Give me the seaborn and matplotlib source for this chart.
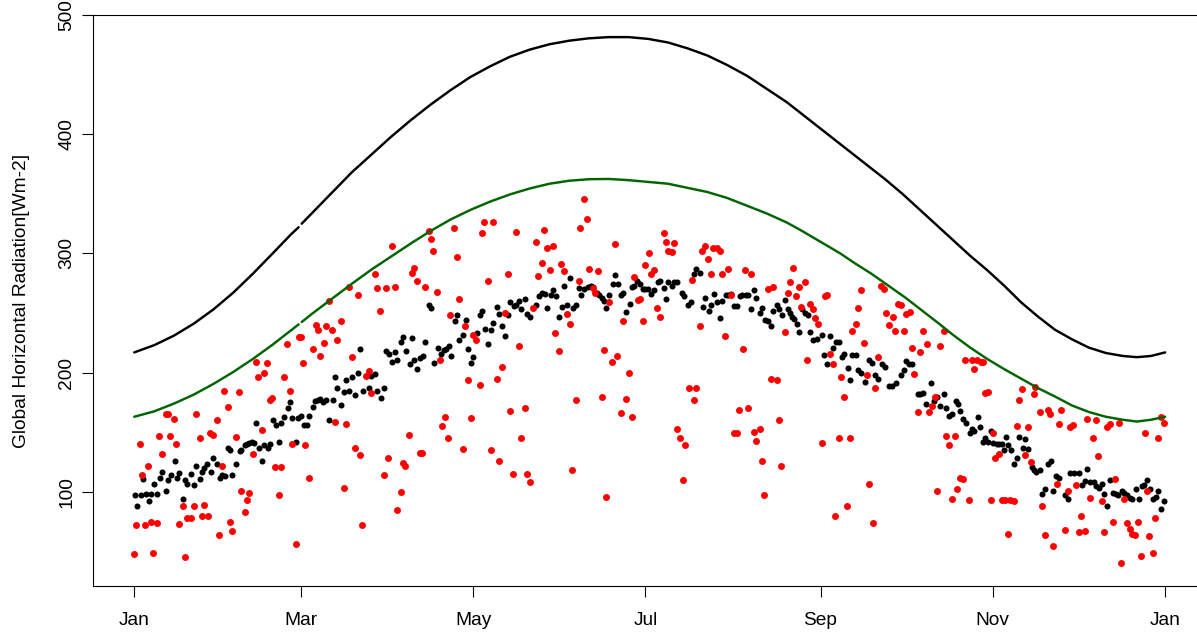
import matplotlib
matplotlib.use("Agg")
import matplotlib.pyplot as plt
import pandas as pd
import seaborn as sns

# x = day of year (0 = 1 Jan), y = W m-2
MONTH_TICKS = [0, 59, 120, 181, 243, 304, 365]
MONTH_LABELS = ["Jan", "Mar", "May", "Jul", "Sep", "Nov", "Jan"]
Y_TICKS = [100, 200, 300, 400, 500]
GAP_DAY = 58.7  # both curves have a small break here

# upper black curve
TOP_CURVE = [(0, 217), (7, 223), (14, 231), (21, 241), (28, 253), (35, 267), (42, 283),
             (49, 300), (55.5, 316), (58.2, 322), (59.3, 325), (63, 334), (70, 351), (77, 368),
             (84, 383), (91, 398), (98, 412), (105, 425), (112, 437), (119, 448), (126, 457),
             (133, 465), (140, 471), (147, 475.5), (154, 478.5), (161, 480.5), (168, 481.5),
             (175, 481.5), (182, 480), (189, 477), (196, 472), (203, 466), (210, 458), (217, 449),
             (224, 438), (231, 427), (238, 414), (245, 401), (252, 388), (259, 375), (266, 362),
             (272, 350), (278, 337), (284, 324), (290, 311), (296, 298), (302, 286), (308, 273),
             (314, 259), (320, 247), (326, 236), (332, 228), (338, 221), (344, 216.5), (350, 214),
             (355, 213), (360, 214), (365, 217)]

# green curve
CLEAR_CURVE = [(0, 163), (7, 167.5), (14, 174), (21, 181.5), (28, 190.5), (35, 200.5),
               (42, 211.5), (49, 223.5), (55.5, 235.5), (58.2, 240.5), (59.3, 242.5), (63, 249.5),
               (70, 262), (77, 274.5), (84, 286.5), (91, 297.5), (98, 308.5), (105, 319),
               (112, 328.5), (119, 336.5), (126, 343.5), (133, 349.5), (140, 354.5), (147, 358.5),
               (154, 361), (161, 362.3), (168, 362.5), (175, 361.5), (182, 360), (189, 358.5),
               (196, 355), (203, 351.5), (210, 346.5), (217, 340), (224, 333.5), (231, 326),
               (236, 319.5), (241, 312.5), (245, 307), (250, 300), (255, 292), (261, 283),
               (267, 273), (273, 263), (279, 252), (285, 241), (290, 231.5), (296, 221),
               (302, 211.5), (308, 203), (314, 195), (320, 187), (326, 180), (332, 172.5),
               (338, 167), (344, 163), (350, 160.5), (355, 159), (360, 160.5), (365, 163)]

# black dots
BLACK_DOTS = [
    (0.1, 97), (0.8, 88), (2.4, 97), (3.0, 111), (4.1, 98), (5.1, 92), (6.0, 98), (7.0, 107),
    (8.0, 98), (9.0, 112), (9.9, 117), (11.2, 101), (12.1, 110), (12.9, 114), (14.3, 126),
    (15.1, 112), (15.9, 116), (17.3, 94), (18.0, 110), (18.8, 107), (20.2, 115), (21.1, 106),
    (21.9, 122), (23.2, 111), (24.1, 117), (24.8, 120), (25.6, 123), (27.3, 117), (28.0, 128),
    (29.3, 123), (30.2, 112), (31.0, 114), (32.0, 113), (33.2, 137), (34.0, 135), (34.7, 114),
    (36.2, 123), (37.3, 134), (37.9, 135), (39.1, 139), (39.9, 140), (40.7, 141), (41.6, 142),
    (42.4, 141), (43.2, 158), (44.0, 137), (45.2, 126), (45.9, 139), (47.3, 137), (48.1, 140),
    (49.0, 160), (50.1, 156), (51.3, 142), (52.0, 158), (53.2, 163), (54.3, 170), (55.1, 175),
    (56.0, 162), (57.2, 142), (57.9, 162), (59.1, 164), (60.1, 156),
    (61.2, 156), (62.0, 164), (63.4, 171), (64.1, 176), (65.0, 177), (65.8, 178), (66.7, 175),
    (67.9, 177), (69.0, 160), (70.2, 177), (71.2, 196), (71.9, 187), (73.3, 173), (74.2, 184),
    (75.1, 194), (76.1, 185), (77.1, 196), (78.0, 181), (79.3, 200), (80.1, 220), (81.1, 185),
    (83.2, 187), (84.0, 197), (85.3, 199), (86.1, 185), (87.2, 179), (88.4, 187), (89.2, 218),
    (90.2, 216), (91.3, 209), (92.2, 217), (93.2, 211), (94.5, 226), (95.3, 230), (96.1, 218),
    (97.5, 207), (98.3, 229), (99.1, 211), (100.0, 203), (101.2, 212), (102.1, 214), (103.0, 226),
    (104.2, 257), (105.1, 254), (106.0, 208), (107.4, 221), (108.6, 216), (109.5, 219),
    (110.4, 220), (111.3, 222), (112.0, 214), (113.4, 243), (114.3, 248), (115.1, 227),
    (116.4, 232), (117.3, 244), (118.1, 220), (119.3, 208), (120.1, 213),
    (121.2, 233), (122.4, 248), (123.2, 252), (124.3, 237), (125.3, 224), (126.4, 236),
    (127.2, 242), (128.5, 255), (129.2, 249), (130.3, 239), (131.4, 231), (132.5, 248),
    (133.2, 259), (134.3, 256), (135.3, 257), (136.2, 260), (137.0, 253), (138.4, 262),
    (139.1, 249), (140.1, 247), (142.2, 257), (143.2, 264), (144.3, 267), (145.3, 266),
    (146.2, 254), (147.4, 265), (148.4, 269), (149.2, 264), (150.5, 247), (151.4, 255),
    (152.2, 273), (153.3, 257), (154.4, 279), (155.2, 254), (156.4, 257), (157.3, 271),
    (158.3, 265), (159.3, 270), (160.5, 272), (161.6, 273), (162.5, 272), (163.7, 267),
    (164.6, 265), (165.6, 263), (166.3, 260), (167.2, 254), (168.2, 265), (169.4, 274),
    (170.3, 282), (171.2, 274), (172.2, 265), (172.9, 267), (174.2, 251), (175.4, 258),
    (176.2, 272), (177.1, 273), (178.1, 277), (179.0, 274), (180.2, 270),
    (180.8, 270), (182.0, 270), (183.0, 266), (184.1, 269), (185.3, 276), (186.3, 277),
    (187.6, 271), (188.3, 262), (189.1, 276), (190.3, 273), (191.2, 276), (192.2, 276),
    (193.8, 267), (194.8, 264), (196.2, 257), (197.1, 259), (198.1, 283), (198.9, 287),
    (200.3, 284), (201.3, 255), (202.1, 263), (203.5, 252), (204.2, 257), (205.1, 266),
    (206.4, 259), (207.4, 246), (208.2, 260), (209.4, 265), (210.3, 265), (211.2, 266),
    (212.5, 256), (213.4, 256), (214.3, 264), (215.3, 265), (216.5, 265), (217.4, 265),
    (218.5, 253), (219.3, 269), (220.2, 263), (221.7, 250), (222.4, 254), (223.3, 244),
    (224.5, 243), (225.4, 239), (226.3, 252), (227.7, 257), (228.4, 253), (229.2, 248),
    (230.4, 261), (231.3, 253), (232.1, 250), (232.8, 247), (233.6, 245), (234.5, 241),
    (235.4, 234), (236.3, 253), (237.5, 250), (238.4, 248), (239.1, 234), (240.4, 227),
    (241.6, 228), (243.4, 232), (244.3, 215), (245.3, 207), (246.5, 231), (247.5, 221),
    (248.4, 226), (249.4, 226), (250.5, 213), (251.4, 216), (252.6, 204), (253.3, 194),
    (254.3, 215), (255.6, 215), (256.4, 202), (257.3, 200), (258.7, 192), (260.3, 211),
    (261.3, 208), (262.3, 198), (263.2, 195), (264.6, 207), (265.8, 205), (267.2, 189),
    (268.4, 189), (269.6, 191), (271.5, 198), (272.4, 202), (273.4, 210), (274.4, 207),
    (275.5, 207), (277.4, 182), (278.3, 182), (279.3, 183), (280.5, 174), (282.1, 191),
    (283.3, 176), (284.2, 180), (285.4, 172), (286.6, 182), (287.5, 170), (288.5, 164),
    (289.4, 165), (290.8, 176), (291.8, 174), (292.5, 168), (293.4, 161), (294.6, 158),
    (295.8, 149), (296.7, 153), (297.4, 151), (298.6, 163), (299.4, 154), (300.5, 142),
    (301.3, 145), (302.4, 142), (303.3, 151), (304.2, 141),
    (305.4, 140), (306.2, 140), (307.1, 140), (308.0, 135), (308.8, 146), (309.5, 139),
    (310.4, 135), (311.6, 123), (312.5, 128), (313.2, 146), (314.7, 137), (315.4, 144),
    (316.4, 136), (317.7, 121), (318.4, 118), (319.4, 117), (320.6, 118), (321.5, 98),
    (322.4, 102), (323.4, 123), (324.6, 126), (325.4, 101), (326.5, 113), (327.6, 112),
    (329.5, 97), (330.5, 94), (331.4, 116), (332.8, 116), (334.5, 116), (335.4, 106),
    (336.6, 109), (337.4, 119), (338.4, 108), (339.7, 108), (340.6, 105), (341.6, 103),
    (342.5, 107), (343.4, 98), (344.4, 88), (345.6, 110), (346.5, 99), (347.5, 98), (348.4, 97),
    (349.6, 101), (350.5, 99), (351.5, 97), (352.4, 95), (353.4, 94), (354.7, 102), (355.6, 94),
    (356.7, 105), (357.6, 106), (358.5, 110), (359.5, 102), (360.7, 94), (361.6, 96),
    (362.4, 101), (363.7, 86), (364.7, 92),
]

# red dots
RED_DOTS = [
    (0, 48), (0.7, 72), (2.1, 140), (2.8, 114), (3.8, 72), (5.0, 122), (5.9, 75), (6.7, 49),
    (8.1, 74), (8.8, 147), (9.8, 132), (11.4, 165), (12.0, 165), (12.7, 147), (14.0, 161),
    (14.9, 140), (15.8, 73), (17.1, 88), (17.9, 45), (18.8, 78), (20.1, 78), (21.0, 88),
    (21.8, 165), (23.4, 145), (24.0, 80), (24.8, 89), (26.1, 80), (27.0, 149), (27.8, 148),
    (29.3, 160), (30.1, 64), (31.0, 122), (31.7, 185), (33.1, 171), (34.0, 75), (34.7, 67),
    (36.1, 146), (37.0, 184), (37.8, 101), (39.2, 83), (40.0, 93), (40.8, 99), (42.1, 132),
    (43.2, 209), (43.9, 196), (45.2, 152), (46.0, 200), (47.0, 208), (48.0, 177), (48.8, 179),
    (49.9, 121), (51.2, 97), (52.0, 121), (53.0, 196), (54.1, 224), (55.0, 185), (55.9, 140),
    (57.2, 56), (58.2, 230), (59.1, 230), (59.9, 208), (60.5, 139),
    (62.0, 112), (63.4, 220), (64.3, 240), (65.1, 236), (65.9, 214), (67.3, 225), (68.0, 239),
    (68.9, 260), (70.1, 236), (71.2, 159), (71.9, 227), (73.3, 243), (74.1, 103), (74.9, 157),
    (76.2, 272), (77.2, 213), (78.0, 137), (79.2, 265), (80.1, 131), (80.7, 72), (82.1, 197),
    (83.0, 201), (84.0, 183), (85.3, 283), (86.1, 271), (87.0, 252), (88.4, 114), (89.1, 271),
    (90.0, 128), (91.3, 306), (92.2, 272), (93.1, 85), (94.5, 100), (95.0, 124), (95.9, 122),
    (97.4, 148), (98.3, 284), (99.0, 288), (100.0, 277), (101.2, 133), (102.0, 133),
    (103.0, 272), (104.3, 319), (105.0, 312), (105.9, 302), (107.3, 268), (108.1, 211),
    (109.0, 155), (110.2, 163), (111.2, 145), (111.9, 248), (113.3, 321), (114.2, 297),
    (114.9, 262), (116.4, 136), (117.2, 239), (118.0, 194), (119.3, 162), (120.0, 232),
    (121.0, 227), (122.4, 190), (123.2, 317), (124.0, 326), (125.3, 277), (126.3, 135),
    (127.1, 326), (128.4, 195), (129.2, 126), (130.2, 205), (131.4, 250), (132.2, 283),
    (133.1, 168), (134.1, 115), (135.3, 318), (136.1, 222), (137.0, 145), (138.3, 170),
    (139.1, 115), (140.1, 108), (141.3, 254), (142.2, 310), (143.1, 281), (144.3, 292),
    (145.2, 320), (146.1, 305), (147.3, 286), (148.2, 306), (149.1, 233), (150.4, 218),
    (151.2, 291), (152.1, 285), (153.3, 249), (154.2, 241), (155.0, 118), (156.4, 177),
    (157.3, 277), (158.0, 321), (159.3, 346), (160.3, 329), (161.1, 287), (162.5, 271),
    (163.3, 267), (164.2, 285), (165.5, 180), (166.4, 219), (167.2, 96), (168.1, 259),
    (169.2, 209), (170.2, 308), (171.0, 214), (172.2, 166), (173.1, 243), (174.1, 178),
    (175.3, 200), (176.2, 163), (177.0, 280), (178.2, 261), (179.1, 262), (180.1, 243),
    (180.9, 290),
    (182.3, 300), (183.0, 283), (184.1, 286), (185.1, 254), (186.0, 247), (187.5, 317),
    (188.2, 310), (189.1, 302), (190.3, 301), (191.2, 309), (192.1, 153), (193.3, 145),
    (194.3, 110), (195.0, 139), (196.3, 187), (197.4, 278), (198.1, 177), (198.9, 187),
    (200.3, 239), (201.1, 302), (202.0, 306), (203.3, 295), (204.1, 283), (205.0, 305),
    (206.3, 305), (207.3, 302), (208.0, 283), (209.3, 231), (210.1, 287), (211.2, 265),
    (212.2, 149), (213.3, 149), (214.0, 169), (215.4, 220), (216.4, 286), (217.2, 170),
    (218.4, 283), (219.3, 150), (220.1, 143), (221.4, 153), (222.3, 126), (223.1, 97),
    (224.4, 270), (225.3, 195), (226.1, 272), (227.6, 194), (228.3, 160), (229.1, 122),
    (230.4, 234), (231.3, 267), (232.1, 276), (233.1, 288), (234.3, 264), (235.2, 272),
    (236.1, 255), (237.4, 276), (238.2, 211), (239.1, 258), (240.2, 253), (241.0, 246),
    (242.0, 241), (243.4, 141), (244.6, 264), (245.3, 265), (246.3, 216), (247.4, 207),
    (248.1, 80), (249.4, 145), (250.2, 196), (251.2, 180), (252.5, 88), (253.3, 145),
    (254.1, 235), (255.4, 241), (256.1, 254), (257.2, 269), (258.5, 225), (259.4, 198),
    (260.2, 107), (261.6, 74), (262.4, 187), (263.2, 213), (264.4, 273), (265.3, 270),
    (266.2, 250), (267.1, 240), (268.5, 247), (269.4, 235), (270.3, 258), (271.5, 257),
    (272.4, 235), (273.4, 249), (274.6, 251), (275.4, 221), (276.1, 199), (277.4, 167),
    (278.3, 217), (279.2, 235), (280.6, 224), (281.3, 167), (282.3, 172), (283.5, 180),
    (284.3, 101), (285.3, 222), (286.6, 235), (287.4, 147), (288.4, 139), (289.5, 94),
    (290.5, 147), (291.3, 102), (292.5, 112), (293.4, 111), (294.1, 211), (295.5, 93),
    (296.5, 211), (297.3, 203), (298.5, 211), (299.7, 209), (300.6, 209), (301.3, 183),
    (302.4, 184), (303.3, 93), (304.1, 149), (304.8, 128),
    (306.2, 132), (307.1, 93), (308.3, 93), (309.3, 65), (310.2, 93), (311.6, 92), (312.4, 155),
    (313.1, 177), (314.5, 186), (315.4, 131), (316.3, 154), (317.5, 125), (318.4, 182),
    (319.1, 188), (320.6, 167), (321.4, 88), (322.3, 64), (323.5, 169), (324.4, 165),
    (325.3, 55), (326.6, 107), (327.4, 157), (328.3, 169), (329.6, 68), (330.5, 101),
    (331.4, 154), (332.5, 156), (333.4, 106), (334.5, 66), (335.2, 80), (336.5, 67),
    (337.3, 161), (338.3, 95), (339.5, 145), (340.4, 160), (341.2, 130), (342.5, 92),
    (343.3, 66), (344.4, 154), (345.6, 157), (346.4, 75), (347.2, 111), (348.6, 158),
    (349.5, 40), (350.3, 94), (351.6, 74), (352.4, 69), (353.2, 65), (354.5, 64), (355.5, 75),
    (356.3, 46), (357.7, 149), (358.5, 101), (359.3, 63), (360.6, 49), (361.5, 78),
    (362.3, 145), (363.6, 163), (364.6, 158),
]

sns.set_style("ticks")
plt.rcParams["font.family"] = ["Liberation Sans", "DejaVu Sans"]
FONT_SIZE = 13.8

fig = plt.figure(figsize=(11.97, 6.33), dpi=100)
ax = fig.add_axes([0.0777, 0.0742, 0.928, 0.902])


def draw_curve(points, color):
    df = pd.DataFrame(points, columns=["day", "value"])
    # draw in two pieces so the break near 1 March stays visible
    for part in (df[df["day"] < GAP_DAY], df[df["day"] > GAP_DAY]):
        sns.lineplot(data=part, x="day", y="value", color=color, linewidth=1.75,
                     estimator=None, ax=ax)


draw_curve(TOP_CURVE, "black")
draw_curve(CLEAR_CURVE, "#006400")

black_df = pd.DataFrame(BLACK_DOTS, columns=["day", "value"])
red_df = pd.DataFrame(RED_DOTS, columns=["day", "value"])
sns.scatterplot(data=black_df, x="day", y="value", color="black", s=19, linewidth=0, ax=ax)
sns.scatterplot(data=red_df, x="day", y="value", color="#ff0000", s=25, linewidth=0, ax=ax)

ax.set_xlim(-14.6, 378.7)
ax.set_ylim(21, 500)
ax.set_xticks(MONTH_TICKS, MONTH_LABELS)
ax.set_yticks(Y_TICKS, [str(v) for v in Y_TICKS])
ax.tick_params(axis="both", direction="out", length=7.8, width=0.8, color="black",
               labelsize=FONT_SIZE, labelcolor="black")
ax.tick_params(axis="x", pad=11)
ax.tick_params(axis="y", pad=5, labelrotation=90)
for lab in ax.get_yticklabels():
    lab.set_verticalalignment("center")

ax.set_xlabel("")
ax.set_ylabel("Global Horizontal Radiation[Wm-2]", fontsize=FONT_SIZE, color="black")
ax.yaxis.set_label_coords(-0.057, 0.5)

for side in ["left", "bottom", "top", "right"]:
    ax.spines[side].set_visible(True)
    ax.spines[side].set_color("black")
    ax.spines[side].set_linewidth(0.8)
ax.grid(False)
ax.set_facecolor("white")

fig.savefig("out.png", dpi=100, facecolor="white")
